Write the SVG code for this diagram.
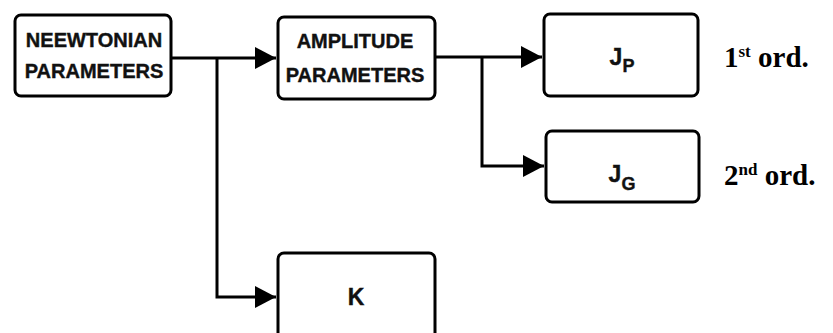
<svg xmlns="http://www.w3.org/2000/svg" width="833" height="333" viewBox="0 0 833 333">
<style>
.box{fill:#fff;stroke:#000;stroke-width:3}
.lbl{font-family:"Liberation Sans",Arial,sans-serif;font-weight:bold;font-size:20px;fill:#111;stroke:#111;stroke-width:0.4;text-anchor:middle}
.big{font-size:23px}
.sub{font-size:18px}
.ord{font-family:"Liberation Serif","Times New Roman",serif;font-size:29px;font-weight:bold;fill:#000}
.sup{font-size:17px}
.wire{fill:none;stroke:#000;stroke-width:3}
</style>
<defs>
<marker id="ah" markerUnits="userSpaceOnUse" markerWidth="22" markerHeight="22" viewBox="0 0 22 22" refX="21" refY="11" orient="auto">
<path d="M0,0 L21,11 L0,22 Z" fill="#000"/>
</marker>
</defs>
<rect width="833" height="333" fill="#fff"/>
<g id="connectors">
<path class="wire" d="M171,58 H276" marker-end="url(#ah)"/>
<path class="wire" d="M217,58 V297 H276" marker-end="url(#ah)"/>
<path class="wire" d="M435,57 H542" marker-end="url(#ah)"/>
<path class="wire" d="M482,57 V166 H544" marker-end="url(#ah)"/>
</g>
<g id="newtonian">
<rect class="box" x="15" y="15" width="156" height="81" rx="6"/>
<text class="lbl" x="94" y="47">NEEWTONIAN</text>
<text class="lbl" x="94" y="78">PARAMETERS</text>
</g>
<g id="amplitude">
<rect class="box" x="278" y="17" width="157" height="82" rx="6"/>
<text class="lbl" x="355" y="48">AMPLITUDE</text>
<text class="lbl" x="355" y="82">PARAMETERS</text>
</g>
<g id="jp">
<rect class="box" x="544" y="14" width="154" height="82" rx="6"/>
<text class="lbl big" x="622" y="65">J<tspan class="sub" dy="7">P</tspan></text>
</g>
<g id="jg">
<rect class="box" x="546" y="131" width="153" height="71" rx="6"/>
<text class="lbl big" x="622" y="182">J<tspan class="sub" dy="8">G</tspan></text>
</g>
<g id="k">
<rect class="box" x="278" y="253" width="157" height="90" rx="6"/>
<text class="lbl big" x="356" y="305">K</text>
</g>
<g id="notes">
<text class="ord" x="724" y="67">1<tspan class="sup" dy="-10">st</tspan><tspan dy="10"> ord.</tspan></text>
<text class="ord" x="724" y="185">2<tspan class="sup" dy="-10">nd</tspan><tspan dy="10"> ord.</tspan></text>
</g>
</svg>
